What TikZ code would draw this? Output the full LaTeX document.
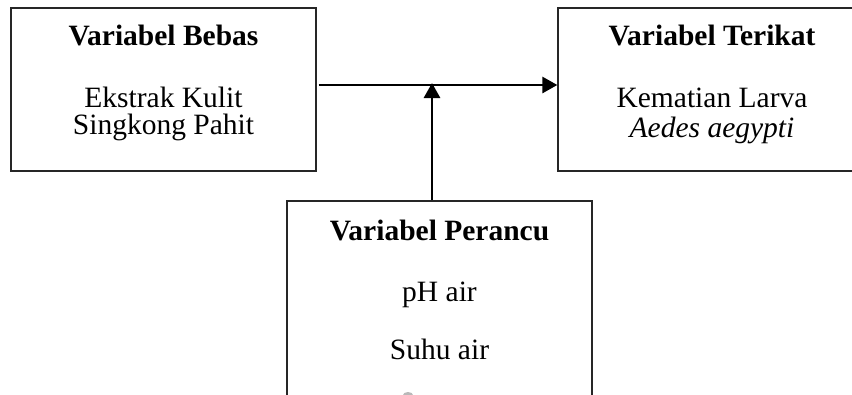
\documentclass[tikz,border=0pt]{standalone}
\usepackage{fontspec}
\setmainfont{Liberation Serif}
\usetikzlibrary{arrows.meta}
\begin{document}
\begin{tikzpicture}[x=1pt,y=-1pt,
  box/.style={draw=black!85,line width=1.3pt,inner sep=0pt,minimum width=305pt},
  txt/.style={anchor=base,inner sep=0pt,font=\fontsize{29.5}{33}\selectfont},
  ttl/.style={txt,font=\fontsize{29.5}{33}\selectfont\bfseries},
  link/.style={line width=2.8pt,-{Triangle[length=15pt,width=16pt]}}]
\useasboundingbox (0,0) rectangle (852,394);
\clip (0,0) rectangle (852,394);
% boxes
\node[box,minimum height=163pt] (bebas) at (163.5,89.5) {};
\node[box,minimum width=308pt,minimum height=163pt] (terikat) at (712,89.5) {};
\node[box,minimum height=219pt] (perancu) at (439.5,310.5) {};
% independent variable
\node[ttl] (tb) at (163.5,45.5) {Variabel Bebas};
\node[txt] (tb1) at (163.5,107) {Ekstrak Kulit};
\node[txt] (tb2) at (163.5,134) {Singkong Pahit};
% dependent variable
\node[ttl] (tt) at (712,45.5) {Variabel Terikat};
\node[txt] (tt1) at (712,107) {Kematian Larva};
\node[txt] (tt2) at (712,137) {\itshape Aedes aegypti};
% confounding variable
\node[ttl] (tp) at (439.5,240) {Variabel Perancu};
\node[txt] (tp1) at (439.5,301) {pH air};
\node[txt] (tp2) at (439.5,359) {Suhu air};
% connectors
\coordinate (j) at (432,85);
\draw[link] ([xshift=2pt]bebas.east |- j) -- (terikat.west |- j);
\draw[link] (j |- perancu.north) -- ([yshift=2pt]j);
% faint mark at the lower edge
\fill[gray!55] (408,395) ellipse (5pt and 3pt);
\end{tikzpicture}
\end{document}
